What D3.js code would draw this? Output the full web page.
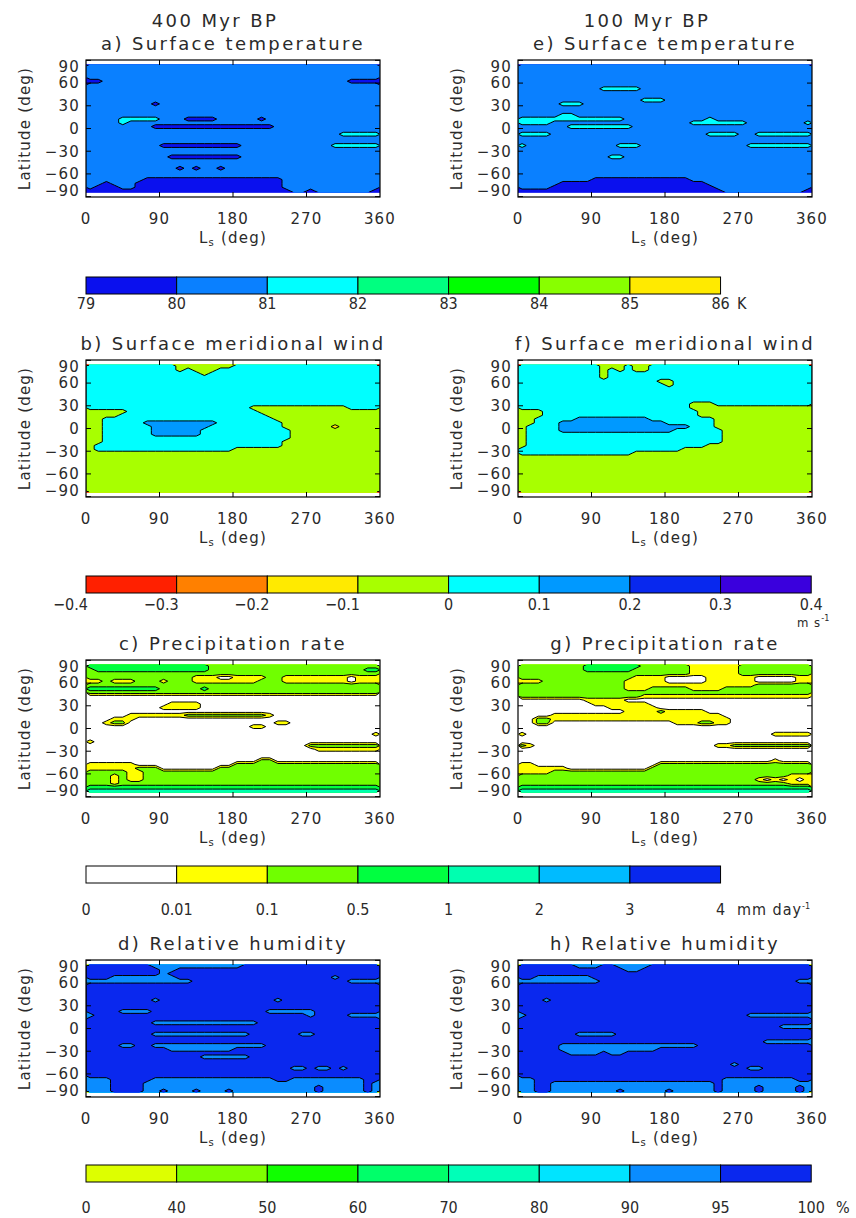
<!DOCTYPE html>
<html><head><meta charset="utf-8">
<script src="https://cdn.jsdelivr.net/npm/d3@7"></script>
<style>
body{margin:0;background:#fff;}
svg text{fill:#2a2a2a;}
</style></head><body>
<svg id="fig" width="856" height="1218"></svg>
<script>
// ---- Axis ticks ----------------------------------------------------------
const lsTicks = [0, 90, 180, 270, 360];
const latTicks = [90, 60, 30, 0, -30, -60, -90];

// ---- Colour-bar class edges (labels as printed) ---------------------------
const tempEdges   = ["79", "80", "81", "82", "83", "84", "85", "86"];
const windEdges   = ["\u22120.4", "\u22120.3", "\u22120.2", "\u22120.1", "0", "0.1", "0.2", "0.3", "0.4"];
const precipEdges = ["0", "0.01", "0.1", "0.5", "1", "2", "3", "4"];
const rhEdges     = ["0", "40", "50", "60", "70", "80", "90", "95", "100"];

// ---- Class palettes --------------------------------------------------------
const tempColors   = ["#0a10ee", "#0a80ff", "#00ffff", "#00ff80", "#00ff00", "#88ff00", "#ffea00"];
const windColors   = ["#ff2000", "#ff8000", "#ffea00", "#a8ff00", "#00ffff", "#0099ff", "#0828ee", "#3a00dd"];
const precipColors = ["#ffffff", "#ffff00", "#70ff00", "#00ff40", "#00ffb0", "#00bbff", "#0828ee"];
const rhColors     = ["#ddff00", "#80ff00", "#10ff00", "#00ff6a", "#00ffb8", "#00e4ff", "#0a8cff", "#0a28ee"];

// ---- Zonal-mean fields: class index per cell --------------------------------
// rows: latitude 82.5 (top) .. -82.5 (bottom) every 5 deg
// cols: Ls 5 .. 355 every 10 deg (written in blocks of six)
const tempA400 = [
"111111 111111 111111 111111 111111 111111",
"111111 111111 111111 111111 111111 111111",
"111111 111111 111111 111111 111111 111111",
"111111 111111 111111 111111 111111 111111",
"001111 111111 111111 111111 111111 110000",
"111111 111111 111111 111111 111111 111111",
"111111 111111 111111 111111 111111 111111",
"111111 111111 111111 111111 111111 111111",
"111111 111111 111111 111111 111111 111111",
"111111 111111 111111 111111 111111 111111",
"111111 110111 111111 111111 111111 111111",
"111111 111111 111111 111111 111111 111111",
"111111 111111 111111 111111 111111 111111",
"111111 111111 111111 111111 111111 111111",
"111122 222111 000011 111011 111111 111111",
"111121 111111 111111 111111 111111 111111",
"111111 110000 000000 000001 111111 111111",
"111111 111111 111111 111111 111111 111111",
"111111 111111 111111 111111 111111 122222",
"111111 111111 111111 111111 111111 111111",
"111111 111111 111111 111111 111111 111111",
"111111 111000 000000 011111 111111 222222",
"111111 111111 111111 111111 111111 111111",
"111111 111111 111111 111111 111111 111111",
"111111 111100 000000 011111 111111 111111",
"111111 111111 111111 111111 111111 111111",
"111111 111111 111111 111111 111111 111111",
"111111 111110 101101 111111 111111 111111",
"111111 111111 111111 111111 111111 111111",
"111111 111111 111111 111111 111111 111111",
"111111 100000 000000 000000 111111 111111",
"110111 000000 000000 000000 111111 111111",
"100011 000000 000000 000000 111111 111111",
"000000 000000 000000 000000 011011 111110"];

const tempE100 = [
"111111 111111 111111 111111 111111 111111",
"111111 111111 111111 111111 111111 111111",
"111111 111111 111111 111111 111111 111111",
"111111 111111 111111 111111 111111 111111",
"111111 111111 111111 111111 111111 111111",
"111111 111111 111111 111111 111111 111111",
"111111 111122 222111 111111 111111 111111",
"111111 111111 111111 111111 111111 111111",
"111111 111111 111111 111111 111111 111111",
"111111 111111 111222 111111 111111 111111",
"111112 221111 111111 111111 111111 111111",
"111111 111111 111111 111111 111111 111111",
"111111 111111 111111 111111 111111 111111",
"111112 211111 111111 111111 111111 111111",
"222222 222222 211111 111112 111111 111111",
"222211 111111 111111 111222 222211 111112",
"111111 222222 221111 111111 111111 111111",
"111111 111111 111111 111111 111111 111111",
"222211 111111 111111 111112 222112 222222",
"111111 111111 111111 111111 111111 111111",
"111111 111111 111111 111111 111111 111111",
"211111 111111 222111 111111 111122 222222",
"111111 111111 111111 111111 111111 111111",
"111111 111111 111111 111111 111111 111111",
"111111 111112 211111 111111 111111 111111",
"111111 111111 111111 111111 111111 111111",
"111111 111111 111111 111111 111111 111111",
"111111 111111 111111 111111 111111 111111",
"111111 111111 111111 111111 111111 111111",
"111111 111111 111111 111111 111111 111111",
"111111 111000 000000 000111 111111 111111",
"111110 000000 000000 000001 111111 111111",
"111100 000000 000000 000000 111111 111111",
"000000 000000 000000 000000 011111 111110"];

const windB400 = [
"444444 444443 333333 444444 444444 444444",
"444444 444443 433344 444444 444444 444444",
"444444 444444 443444 444444 444444 444444",
"444444 444444 444444 444444 444444 444444",
"444444 444444 444444 444444 444444 444444",
"444444 444444 444444 444444 444444 444444",
"444444 444444 444444 444444 444444 444444",
"444444 444444 444444 444444 444444 444444",
"444444 444444 444444 444444 444444 444444",
"444444 444444 444444 444444 444444 444444",
"444444 444444 444444 444444 444444 444444",
"444444 444444 444444 443333 333333 334444",
"333334 444444 444444 444333 333333 333333",
"333344 444444 444444 444433 333333 333333",
"334444 444444 444444 444443 333333 333333",
"334444 455555 555544 444444 333333 333333",
"334444 445555 555444 444444 333333 233333",
"334444 445555 554444 444444 433333 333333",
"334444 445555 554444 444444 433333 333333",
"334444 444444 444444 444444 433333 333333",
"334444 444444 444444 444444 333333 333333",
"344444 444444 444444 444444 333333 333333",
"344444 444444 444444 333333 333333 333333",
"333333 333333 333333 333333 333333 333333",
"333333 333333 333333 333333 333333 333333",
"333333 333333 333333 333333 333333 333333",
"333333 333333 333333 333333 333333 333333",
"333333 333333 333333 333333 333333 333333",
"333333 333333 333333 333333 333333 333333",
"333333 333333 333333 333333 333333 333333",
"333333 333333 333333 333333 333333 333333",
"333333 333333 333333 333333 333333 333333",
"333333 333333 333333 333333 333333 333333",
"333333 333333 333333 333333 333333 333333"];

const windF100 = [
"444444 444433 343344 444444 444444 444444",
"444444 444434 343344 444444 444444 444444",
"444444 444434 444444 444444 444444 444444",
"444444 444434 444444 444444 444444 444444",
"444444 444444 444443 344444 444444 444444",
"444444 444444 444444 344444 444444 444444",
"444444 444444 444444 444444 444444 444444",
"444444 444444 444444 444444 444444 444444",
"444444 444444 444444 444444 444444 444444",
"444444 444444 444444 444444 444444 444444",
"444444 444444 444444 444333 444444 444444",
"444444 444444 444444 444333 333333 333333",
"333444 444444 444444 444433 333333 333333",
"333444 444444 444444 444433 333333 333333",
"334444 455555 555544 444444 333333 333333",
"334445 555555 555555 444444 333333 333333",
"344445 555555 555555 555444 333333 333333",
"344445 555555 555555 544444 433333 333333",
"344444 444444 444444 444444 433333 333333",
"344444 444444 444444 444444 433333 333333",
"344444 444444 444444 444444 433333 333333",
"344444 444444 444444 444443 333333 333333",
"444444 444444 444444 443333 333333 333333",
"444444 444444 443333 333333 333333 333333",
"333333 333333 333333 333333 333333 333333",
"333333 333333 333333 333333 333333 333333",
"333333 333333 333333 333333 333333 333333",
"333333 333333 333333 333333 333333 333333",
"333333 333333 333333 333333 333333 333333",
"333333 333333 333333 333333 333333 333333",
"333333 333333 333333 333333 333333 333333",
"333333 333333 333333 333333 333333 333333",
"333333 333333 333333 333333 333333 333333",
"333333 333333 333333 333333 333333 333333"];

const precipC400 = [
"333333 333333 333222 222222 222222 222222",
"233333 333333 333222 222222 222222 222233",
"222222 222222 222222 222222 222222 222222",
"222222 222222 211100 111122 111111 110111",
"112111 222122 211111 111222 111111 110111",
"222222 222222 222222 222222 222222 222222",
"333333 333222 223222 222222 222222 222222",
"222222 222222 222222 222222 222222 222222",
"000000 000000 000000 000000 000000 000000",
"000000 000000 000000 000000 000000 000000",
"000000 000011 110000 000000 000000 000000",
"000000 000111 110000 000000 000000 000000",
"000000 000000 000000 000000 000000 000000",
"000001 111111 222222 222210 000000 000000",
"000111 000000 000000 000000 000000 000000",
"001220 000000 000000 000001 100000 000000",
"000000 000000 000000 001100 000000 000000",
"000000 000000 000000 000000 000000 000000",
"000000 000000 000000 000000 000000 000001",
"000000 000000 000000 000000 000000 000000",
"100000 000000 000000 000000 000000 000000",
"000000 000000 000000 000000 000222 222222",
"000000 000000 000000 000000 000011 111111",
"000000 000000 000000 000000 000000 000000",
"000000 000000 000000 000000 000000 000000",
"000000 000000 000000 000220 000000 000000",
"111111 000000 000000 222222 222222 222222",
"111111 222000 000022 222222 222222 222222",
"222221 122222 222222 222222 222222 222222",
"222121 122222 222222 222222 222222 222222",
"222121 122222 222222 222222 222222 222222",
"222122 222222 222222 222222 222222 222222",
"333333 333333 333333 333333 333333 333333",
"444444 444444 444444 444444 444444 444444"];

const precipG100 = [
"222222 223333 333222 222111 111222 222222",
"222222 223333 332222 222111 111222 222222",
"222222 222222 222222 222111 111222 222222",
"222222 222222 221111 000001 111110 000011",
"111222 222222 211111 000001 111110 000011",
"222222 222222 211111 111111 111112 222222",
"222222 222222 211122 222111 122222 222222",
"222222 222222 222222 222222 222222 222222",
"222222 222222 222111 111111 111111 111111",
"000000 001111 100000 000000 000000 000000",
"000000 000111 111100 000000 000000 000000",
"000000 000001 111110 000000 000000 000000",
"000000 000000 011112 111110 000000 000000",
"000011 111111 111111 111111 100000 000000",
"002211 111111 111111 111111 110000 000000",
"002200 000000 000000 011122 110000 000000",
"000000 000000 000000 000000 000000 000000",
"000000 000000 000000 000000 000000 000000",
"100000 000000 000000 000000 000000 011111",
"000000 000000 000000 000000 000000 000000",
"000000 000000 000000 000000 000000 000000",
"210000 000000 000000 000000 112222 222222",
"000000 000000 000000 000000 000000 000000",
"000000 000000 000000 000000 000000 000000",
"000000 000000 000000 000000 000000 000000",
"000000 000000 000000 000000 000000 010000",
"110000 000000 000002 222222 222222 222222",
"111111 000000 000022 222222 222222 222222",
"111122 222222 222222 222222 222222 222222",
"222222 222222 222222 222222 222222 222111",
"222222 222222 222222 222222 222221 010101",
"222222 222222 222222 222222 222222 222111",
"333333 333333 333333 333333 333333 333333",
"444444 444444 444444 444444 444444 444444"];

const rhD400 = [
"777777 776666 666666 677777 777777 777777",
"777777 777667 777777 777777 777777 777777",
"777777 777677 777777 777777 777777 777777",
"777666 666667 777777 777777 777777 677777",
"666666 666666 677777 777777 777777 776666",
"777777 777777 777777 777777 777777 777777",
"777777 777777 777777 777777 777777 777777",
"777777 777777 777777 777777 777777 777777",
"777777 777777 777777 777777 777777 777777",
"777777 776777 777777 777776 777777 777777",
"777777 777777 777777 777777 777777 777777",
"777777 777777 777777 777777 777777 777777",
"777766 667777 777777 777766 666677 777777",
"677777 777777 777777 777777 777677 776666",
"777777 777777 777777 777777 777777 777777",
"777777 776666 666666 666777 777777 777777",
"777777 777777 777777 777777 777777 777777",
"777777 777777 777777 777777 777777 777777",
"777777 776666 666666 667777 776677 777777",
"777777 777777 777777 777777 777777 777777",
"777777 777777 777777 777777 777777 777777",
"777766 776666 666666 666677 777777 777777",
"777777 777766 666666 777777 777777 777777",
"777777 777777 777777 777777 777777 777777",
"777777 777777 776666 667777 777777 777777",
"777777 777777 777777 777777 777777 777777",
"777777 777777 777777 777777 777777 777777",
"777777 777777 777777 777777 766766 767777",
"777777 777777 777777 777777 777777 777777",
"777777 777777 777777 777777 777777 777777",
"666777 776666 666666 666667 766666 666677",
"666777 766666 666666 666666 666666 666676",
"666777 766666 666666 666666 666676 666676",
"666777 766766 676667 666666 666676 666676"];

const rhH100 = [
"777777 766677 666677 777777 777777 777777",
"777777 777777 766777 777777 777777 777777",
"777777 777777 777777 777777 777777 777777",
"776666 666777 777777 777777 777777 777777",
"666666 666677 777777 777777 777777 777766",
"777777 777777 777777 777777 777777 777777",
"777777 777777 777777 777777 777777 777777",
"777777 777777 777777 777777 777777 777777",
"777777 777777 777777 777777 777777 777777",
"777677 777777 777777 777777 777777 777777",
"777777 777777 777777 777777 777777 777777",
"777777 777777 777777 777777 777777 777777",
"777777 777777 777777 777777 777777 777777",
"677777 777777 777777 777777 777766 666666",
"777777 777777 777777 777777 777777 777777",
"777777 777777 777777 777777 777777 777777",
"777777 777777 777777 777777 777777 776666",
"777777 777777 777777 777777 777777 777777",
"777777 766666 777777 777777 777777 777777",
"777777 777777 777777 777777 777777 777777",
"777777 777777 777777 777777 777777 666666",
"777776 666666 666666 666677 777777 777777",
"777776 666666 666667 777777 777777 777777",
"777777 666676 677777 777777 777777 777777",
"777777 777777 777777 777777 777777 777777",
"777777 777777 777777 777777 777777 777777",
"777777 777777 777777 777777 776777 777777",
"777777 777777 777777 777777 777766 777777",
"777777 777777 777777 777777 777777 777777",
"777777 777777 777777 777777 777777 777777",
"667777 777777 777777 777777 766666 666677",
"667766 666666 666666 666666 766666 666666",
"667766 666666 666666 666666 766667 666676",
"667766 666666 766666 766666 766667 666676"];

// ---- Layout ----------------------------------------------------------------
const FONT = "'DejaVu Sans', Verdana, sans-serif";
const NARROW = "'Liberation Sans Narrow', 'DejaVu Sans Condensed', 'Liberation Sans', sans-serif";
const colX = [86, 518];
const plotW = 294;
const rowTop = [60, 360, 660, 960];
const plotH = 137;
const latEdge = 85;   // grid covers +-85 deg

const panels = [
  {row: 0, col: 0, title: "a) Surface temperature",    grid: tempA400,   colors: tempColors},
  {row: 1, col: 0, title: "b) Surface meridional wind", grid: windB400,  colors: windColors},
  {row: 2, col: 0, title: "c) Precipitation rate",     grid: precipC400, colors: precipColors},
  {row: 3, col: 0, title: "d) Relative humidity",      grid: rhD400,     colors: rhColors},
  {row: 0, col: 1, title: "e) Surface temperature",    grid: tempE100,   colors: tempColors},
  {row: 1, col: 1, title: "f) Surface meridional wind", grid: windF100,  colors: windColors},
  {row: 2, col: 1, title: "g) Precipitation rate",     grid: precipG100, colors: precipColors},
  {row: 3, col: 1, title: "h) Relative humidity",      grid: rhH100,     colors: rhColors}
];

const svg = d3.select("#fig");
svg.append("rect").attr("width", 856).attr("height", 1218).attr("fill", "#fff");

const toValues = grid => grid.flatMap(r => Array.from(r.replace(/ /g, ""), c => +c + 0.5));

panels.forEach((p, i) => {
  const x0 = colX[p.col], x1 = x0 + plotW;
  const top = rowTop[p.row], bottom = top + plotH;
  const x = d3.scaleLinear().domain([0, 360]).range([x0, x1]);
  const y = d3.scaleLinear().domain([-90.5, 90.5]).range([bottom, top]);
  const nx = p.grid[0].replace(/ /g, "").length, ny = p.grid.length;
  const values = toValues(p.grid);
  const gx = v => x(v * 360 / nx);
  const gy = v => y(latEdge - v * 2 * latEdge / ny);
  const path = d3.geoPath(d3.geoTransform({point(a, b) { this.stream.point(gx(a), gy(b)); }}));
  const bands = d3.contours().size([nx, ny]).thresholds(d3.range(1, p.colors.length))(values);

  const g = svg.append("g");
  g.append("rect").attr("x", x0).attr("y", gy(0)).attr("width", x1 - x0)
    .attr("height", gy(ny) - gy(0)).attr("fill", p.colors[0]);
  g.append("g").selectAll("path").data(bands).join("path")
    .attr("d", path).attr("fill", d => p.colors[d.value]);

  const clipId = "inner" + i;
  svg.append("clipPath").attr("id", clipId).append("rect")
    .attr("x", x0 + 0.8).attr("y", gy(0) + 0.8)
    .attr("width", x1 - x0 - 1.6).attr("height", gy(ny) - gy(0) - 1.6);
  g.append("g").attr("clip-path", `url(#${clipId})`)
    .selectAll("path").data(bands).join("path")
    .attr("d", path).attr("fill", "none").attr("stroke", "#000").attr("stroke-width", 1);

  // frame and inward ticks
  g.append("rect").attr("x", x0).attr("y", top).attr("width", x1 - x0).attr("height", plotH)
    .attr("fill", "none").attr("stroke", "#000").attr("stroke-width", 1.2);
  const tk = g.append("g").attr("stroke", "#000").attr("stroke-width", 1);
  latTicks.forEach(v => {
    tk.append("line").attr("x1", x0).attr("x2", x0 + 5).attr("y1", y(v)).attr("y2", y(v));
    tk.append("line").attr("x1", x1 - 5).attr("x2", x1).attr("y1", y(v)).attr("y2", y(v));
  });
  lsTicks.slice(1, -1).forEach(v => {
    tk.append("line").attr("x1", x(v)).attr("x2", x(v)).attr("y1", bottom).attr("y2", bottom - 5);
    tk.append("line").attr("x1", x(v)).attr("x2", x(v)).attr("y1", top).attr("y2", top + 5);
  });

  // tick labels
  const lab = g.append("g").attr("font-family", FONT).attr("font-size", 15).attr("letter-spacing", 1.2);
  latTicks.forEach(v => {
    const yy = Math.max(top + 6.5, Math.min(bottom - 6.5, y(v)));
    lab.append("text").attr("x", x0 - 6).attr("y", yy).attr("dy", "0.36em")
      .attr("text-anchor", "end").text(v < 0 ? "\u2212" + (-v) : String(v));
  });
  lsTicks.forEach(v => {
    lab.append("text").attr("x", x(v)).attr("y", bottom + 27).attr("text-anchor", "middle").text(v);
  });
  // axis titles
  const xt = lab.append("text").attr("x", (x0 + x1) / 2).attr("y", bottom + 46).attr("text-anchor", "middle");
  xt.append("tspan").text("L");
  xt.append("tspan").attr("font-size", 10).attr("dy", 3).text("s");
  xt.append("tspan").attr("dy", -3).text(" (deg)");
  lab.append("text").attr("transform", `translate(${x0 - 56},${(top + bottom) / 2}) rotate(-90)`)
    .attr("text-anchor", "middle").text("Latitude (deg)");

  // panel title
  svg.append("text").attr("x", (x0 + x1) / 2).attr("y", top - 10).attr("text-anchor", "middle")
    .attr("font-family", FONT).attr("font-size", 18).attr("letter-spacing", 2.4).text(p.title);
});

// column headers
[["400 Myr BP", 0], ["100 Myr BP", 1]].forEach(([t, c]) => {
  svg.append("text").attr("x", colX[c] + plotW / 2 - 18).attr("y", 27).attr("text-anchor", "middle")
    .attr("font-family", FONT).attr("font-size", 18).attr("letter-spacing", 2.4).text(t);
});

// ---- Colour bars -----------------------------------------------------------
const bars = [
  {y: 277, edges: tempEdges,   colors: tempColors,   labelY: 309, unit: "K",      unitX: 737, unitY: 309, sup: ""},
  {y: 576, edges: windEdges,   colors: windColors,   labelY: 610, unit: "m s",    unitX: 797, unitY: 627, sup: "-1"},
  {y: 866, edges: precipEdges, colors: precipColors, labelY: 915, unit: "mm day", unitX: 737, unitY: 915, sup: "-1"},
  {y: 1165, edges: rhEdges,    colors: rhColors,     labelY: 1213, unit: "%",     unitX: 836, unitY: 1213, sup: ""}
];
const boxW = 90.65;
bars.forEach(b => {
  const n = b.colors.length;
  const bx = d3.scaleLinear().domain([0, n]).range([86, 86 + n * boxW]);
  const g = svg.append("g");
  g.selectAll("rect").data(b.colors).join("rect")
    .attr("x", (d, i) => bx(i)).attr("y", b.y).attr("width", boxW).attr("height", 17)
    .attr("fill", d => d).attr("stroke", "#000").attr("stroke-width", 1);
  const lg = g.append("g").attr("font-family", NARROW).attr("font-size", 16);
  b.edges.forEach((t, i) => {
    const neg = t.startsWith("\u2212");
    lg.append("text").attr("x", neg ? bx(i) + 2 : bx(i)).attr("y", b.labelY)
      .attr("text-anchor", neg ? "end" : "middle").text(t);
  });
  const u = lg.append("text").attr("x", b.unitX).attr("y", b.unitY)
    .attr("font-size", b.sup && b.y === 576 ? 13 : 16).attr("letter-spacing", 1).text(b.unit);
  if (b.sup) u.append("tspan").attr("font-size", 9).attr("dy", -6).attr("letter-spacing", 0).text(b.sup);
});
</script>
</body></html>
